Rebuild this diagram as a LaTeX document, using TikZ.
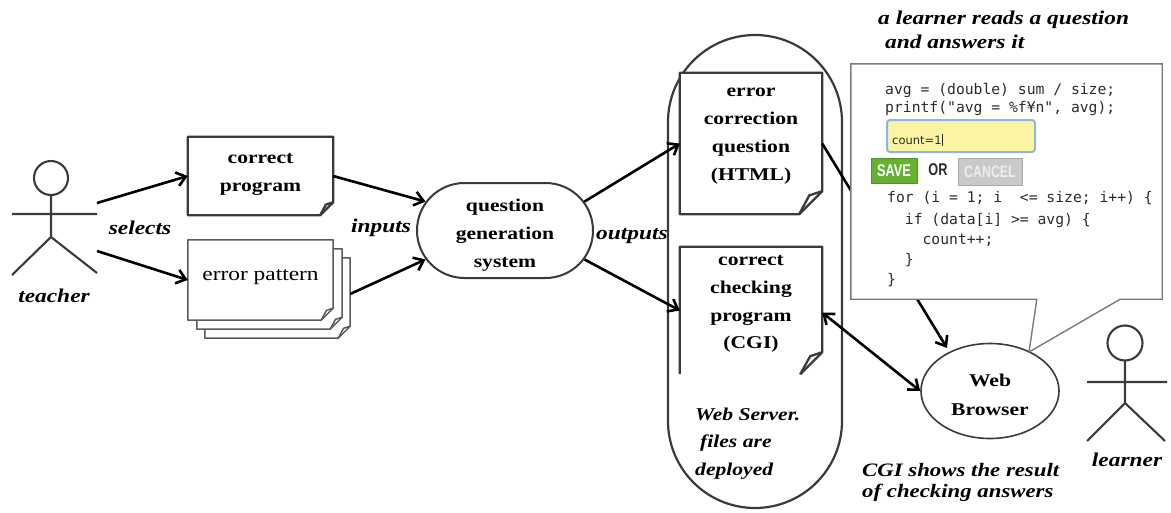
\documentclass[tikz,border=0pt]{standalone}
\usepackage{fontspec}
\setmainfont{Liberation Serif}[FakeStretch=1.2]
\newfontfamily\codefont{DejaVu Sans Mono}
\newfontfamily\uifont{DejaVu Sans}
\newfontfamily\btnfont{Liberation Sans}[FakeStretch=0.75]
\usetikzlibrary{arrows.meta,calc,shapes.misc,shapes.geometric}

\definecolor{edge}{HTML}{3A3A3A}
\definecolor{softedge}{HTML}{5A5A5A}
\definecolor{calledge}{HTML}{7A7A7A}
\definecolor{inputfill}{HTML}{FBF4A2}
\definecolor{inputedge}{HTML}{8FB6E2}
\definecolor{savegreen}{HTML}{66B132}
\definecolor{savedge}{HTML}{4F9424}
\definecolor{cancelgrey}{HTML}{C9C9C9}
\definecolor{canceledge}{HTML}{A8A8A8}
\definecolor{codeink}{HTML}{2B2B2B}

% document outline with a folded bottom-right corner
\newcommand\docshape[3][]{%
  \draw[docline,fill=white,#1] (#2.north west) -- (#2.north east)
    -- ([yshift=#3pt]#2.south east) -- ([xshift=-#3pt]#2.south east)
    -- (#2.south west) -- cycle;
  \draw[docline,#1] ([yshift=#3pt]#2.south east)
    -- ++({-0.56*#3pt},{-0.18*#3pt}) -- ([xshift=-#3pt]#2.south east);
}

\begin{document}
\begin{tikzpicture}[x=1pt,y=-1pt,
  docline/.style={draw=edge,line width=2.3pt,line join=round},
  stackline/.style={draw=softedge,line width=1.5pt,line join=round},
  docbox/.style={rectangle,inner sep=0pt,minimum width=145pt},
  boxtext/.style={align=center,inner sep=0pt,
    font=\fontsize{18}{28}\selectfont\bfseries},
  lbl/.style={inner sep=0pt,anchor=base,
    font=\fontsize{19.5}{23}\selectfont\bfseries\itshape},
  stick/.style={draw=edge,line width=2.1pt},
  arr/.style={draw=black,line width=2.6pt,
    -{Straight Barb[length=9pt,width=14pt]}},
  darr/.style={draw=black,line width=2.6pt,
    {Straight Barb[length=9pt,width=14pt]}-{Straight Barb[length=9pt,width=14pt]}},
  code/.style={inner sep=0pt,anchor=base west,text=codeink,
    font=\codefont\fontsize{14.7}{18}\selectfont},
]
\useasboundingbox (0,0) rectangle (1171,512);

% ---------- teacher ----------
\draw[stick] (51,178) circle[radius=17pt];
\draw[stick] (51,195) -- (51,237) (12,214) -- (97,214)
  (12,275) -- (51,237) -- (97,273);
\node[lbl] (teacher) at (54,302.5) {teacher};
\coordinate (tA) at (97,203);
\coordinate (tB) at (97,251);

% ---------- inputs of the generator ----------
\node[docbox,minimum height=78pt] (cp) at (260.5,176) {};
\docshape{cp}{13}
\node[boxtext] (cpt) at (260.5,174) {correct\\program};

\node[docbox,minimum height=80pt] (ep3) at (277.5,298) {};
\node[docbox,minimum height=80pt] (ep2) at (269.5,289) {};
\node[docbox,minimum height=80pt] (ep) at (260.5,280) {};
\docshape[stackline]{ep3}{12}
\docshape[stackline]{ep2}{12}
\docshape[stackline]{ep}{12}
\node[inner sep=0pt,font=\fontsize{19.5}{23}\selectfont] (ept) at (260.5,277) {error pattern};

\draw[arr] (tA) -- (cp.west);
\draw[arr] (tB) -- (ep.west);
\node[lbl] (selects) at (140,234.5) {selects};

% ---------- question generation system ----------
\node[rounded rectangle,draw=edge,line width=2pt,minimum width=176pt,
  minimum height=95pt,inner sep=0pt] (qg) at (505,230.5) {};
\node[boxtext] (qgt) at (505,235) {question\\generation\\system};

\draw[arr] (cp.east) -- (qg.160);
\draw[arr] ([yshift=4pt]ep3.east) -- (qg.200);
\node[lbl] (inputs) at (381,232.5) {inputs};

% ---------- web server ----------
\node[rectangle,draw=edge,line width=2.2pt,rounded corners=87pt,
  minimum width=174pt,minimum height=473pt,inner sep=0pt] (ws) at (755,271.5) {};

\node[docbox,minimum width=142pt,minimum height=141pt] (ecq) at (751,143.5) {};
\docshape{ecq}{23}
\node[boxtext] (ecqt) at (751,136.5) {error\\correction\\question\\(HTML)};

\node[docbox,minimum width=142pt,minimum height=127pt] (ccp) at (751,310.5) {};
\draw[docline] (ccp.south west) -- (ccp.north west) -- (ccp.north east)
  -- ([yshift=22pt]ccp.south east) -- ([xshift=-22pt]ccp.south east);
\draw[docline] ([yshift=22pt]ccp.south east) -- ++(-12pt,-4pt)
  -- ([xshift=-22pt]ccp.south east);
\node[boxtext,font=\fontsize{18}{27.7}\selectfont\bfseries] (ccpt) at (751,304)
  {correct\\checking\\program\\(CGI)};

\node[align=left,inner sep=0pt,anchor=west,
  font=\fontsize{18}{27.5}\selectfont\bfseries\itshape] (wst) at (695,443.5)
  {Web Server.\\\hspace*{5pt}files are\\deployed};

\draw[arr] (qg.20) -- (ecq.west);
\draw[arr] (qg.-20) -- (ccp.west);
\node[lbl] (outputs) at (632,239.5) {outputs};

% ---------- web browser ----------
\node[ellipse,draw=edge,line width=1.6pt,minimum width=138pt,minimum height=95pt,
  inner sep=0pt] (wb) at (990,391) {};
\node[boxtext,font=\fontsize{18}{29}\selectfont\bfseries] (wbt) at (990,395) {Web\\Browser};
\coordinate (tip) at ($(wb.center)+(39,-39)$);
\coordinate (wbin) at ($(wb.center)+(-43,-43)$);

\draw[arr] (ecq.east) -- (wbin);
\draw[darr] ([yshift=-2pt]ccp.east) -- (wb.west);

% ---------- callout with the question page ----------
\node[rectangle,inner sep=0pt,minimum width=311pt,minimum height=235pt]
  (call) at (1006.5,181.5) {};
\draw[draw=calledge,line width=1.4pt,fill=white,line join=miter]
  (call.north west) -- (call.north east) -- (call.south east)
  -- ([xshift=-42pt]call.south east) -- (tip)
  -- ([xshift=186pt]call.south west) -- (call.south west) -- cycle;

\node[code] (c1) at (885,94.5) {avg = (double) sum / size;};
\node[code] (c2) at (885,112.5) {printf("avg = \%f¥n", avg);};

\node[rectangle,rounded corners=3pt,draw=inputedge,line width=2pt,fill=inputfill,
  minimum width=148pt,minimum height=32pt,inner sep=0pt] (input) at (961,136) {};
\node[inner sep=0pt,anchor=base west,text=codeink,
  font=\uifont\fontsize{11.5}{14}\selectfont] (inputt) at (892,144)
  {count=1\rule[-1.5pt]{0.8pt}{12pt}};

\node[rectangle,fill=savegreen,draw=savedge,line width=0.8pt,minimum width=46pt,
  minimum height=25pt,inner sep=0pt,text=white,
  font=\btnfont\fontsize{17}{20}\selectfont\bfseries] (save) at (894,170.5) {SAVE};
\node[inner sep=0pt,text=codeink,
  font=\btnfont\fontsize{17}{20}\selectfont\bfseries] (or) at (938,169.5) {OR};
\node[rectangle,fill=cancelgrey,draw=canceledge,line width=1pt,minimum width=64pt,
  minimum height=27pt,inner sep=0pt,text=white!93!black,
  font=\btnfont\fontsize{16.5}{20}\selectfont\bfseries] (cancel) at (990,171.5) {CANCEL};

\node[code] (c3) at (887,202.5) {for (i = 1; i\ \ <= size; i++) \{};
\node[code] (c4) at (887,224.5) {\phantom{xx}if (data[i] >= avg) \{};
\node[code] (c5) at (887,244.5) {\phantom{xxxx}count++;};
\node[code] (c6) at (887,264.5) {\phantom{xx}\}};
\node[code] (c7) at (887,284.5) {\}};

\node[align=left,inner sep=0pt,anchor=west,
  font=\fontsize{19.5}{24}\selectfont\bfseries\itshape] (reads) at (878,30)
  {a learner reads a question\\\hspace*{7pt}and answers it};

% ---------- learner ----------
\draw[stick] (1125,343) circle[radius=17.5pt];
\draw[stick] (1125,360.5) -- (1125,403) (1087,382) -- (1167,382)
  (1087,441) -- (1125,403) -- (1165,441);
\node[lbl] (learner) at (1127,466.5) {learner};

\node[align=left,inner sep=0pt,anchor=west,
  font=\fontsize{19}{21.5}\selectfont\bfseries\itshape] (cgi) at (862,482.5)
  {CGI shows the result\\of checking answers};
\end{tikzpicture}
\end{document}
